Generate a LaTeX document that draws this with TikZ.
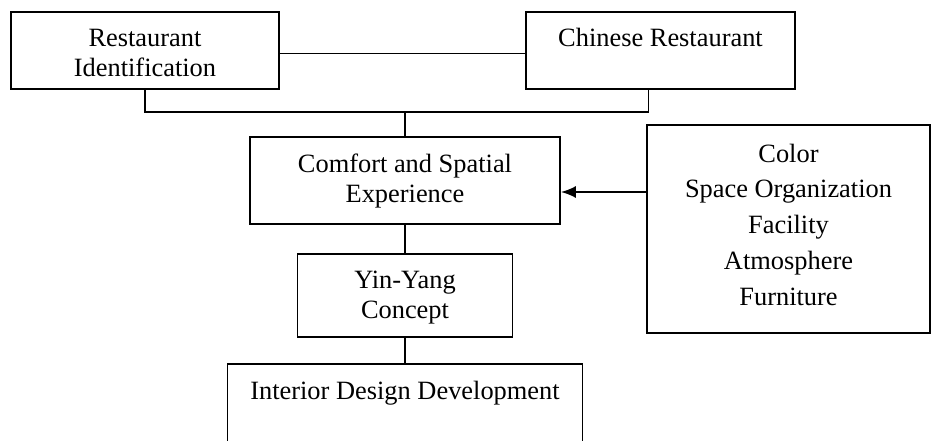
\documentclass[tikz,border=0pt]{standalone}
\usepackage{fontspec}
\setmainfont{Liberation Serif}
\usetikzlibrary{arrows.meta}

\begin{document}
\begin{tikzpicture}[x=1pt,y=-1pt,line width=1.8pt,
  block/.style={draw,rectangle,align=center,inner sep=0pt,font=\fontsize{26.4}{30}\selectfont},
  listblock/.style={block,font=\fontsize{26.4}{35.7}\selectfont}]
\def\hTop{50.5}
\def\hJoin{112}
\def\xMid{405}
  \useasboundingbox (0,0) rectangle (932,441);
  %\draw[help lines,step=50] (0,0) grid (932,441);
\path
(145,\hTop) node [block,minimum width=268pt,minimum height=77pt,text height=65pt,text depth=12pt] (ident) {Restaurant\\Identification}
(660.5,\hTop) node [block,minimum width=269pt,minimum height=77pt,text height=35pt,text depth=42pt] (chinese) {Chinese Restaurant}
(\xMid,180.5) node [block,minimum width=310pt,minimum height=87pt,text height=65pt,text depth=22pt] (comfort) {Comfort and Spatial\\Experience}
(788.5,229) node [listblock,minimum width=283pt,minimum height=208pt,text height=180pt,text depth=28pt] (factors) {Color\\Space Organization\\Facility\\Atmosphere\\Furniture}
(\xMid,295.5) node [block,minimum width=215pt,minimum height=83pt,text height=64pt,text depth=19pt] (yinyang) {Yin-Yang\\Concept}
(\xMid,363) node [block,anchor=north,minimum width=355pt,text height=36pt,text depth=64pt] (interior) {Interior Design Development}
;
\coordinate (join) at (\xMid,\hJoin);
\coordinate (tip) at ([yshift=-11.5pt]comfort.east);
\draw ([yshift=-3pt]ident.east) -- ([yshift=-3pt]chinese.west);
\draw (ident.south) |- (join) -| ([xshift=-12pt]chinese.south);
\draw (join) -- (comfort.north);
\draw[-{Latex[length=15pt,width=12pt]}] (factors.west |- tip) -- (tip);
\draw (comfort.south) -- (yinyang.north);
\draw (yinyang.south) -- (interior.north);
  %\draw[red] (interior.south west) rectangle (interior.north east);
\end{tikzpicture}
\end{document}
